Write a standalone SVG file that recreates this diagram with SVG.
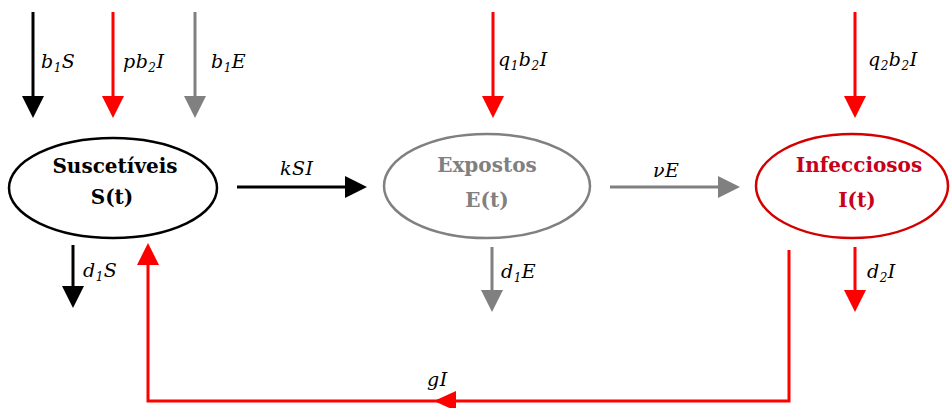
<svg xmlns="http://www.w3.org/2000/svg" width="951" height="408" viewBox="0 0 951 408">
<style>
.lbl{font-family:"DejaVu Serif","Liberation Serif",serif;font-style:italic;font-size:19px;letter-spacing:0.5px}
.sub{font-size:12px}
.ttl{font-family:"DejaVu Serif","Liberation Serif",serif;font-weight:bold;font-size:20px;letter-spacing:0px;text-anchor:middle}
.k{stroke:#000;stroke-width:3;fill:none}
.g{stroke:#808080;stroke-width:3;fill:none}
.r{stroke:#ff0000;stroke-width:3;fill:none}
</style>
<defs>
<marker id="ak" viewBox="0 0 22 22" markerWidth="22" markerHeight="22" refX="12" refY="11" orient="auto" markerUnits="userSpaceOnUse"><path d="M0,0 L22,11 L0,22 z" fill="#000"/></marker>
<marker id="ag" viewBox="0 0 22 22" markerWidth="22" markerHeight="22" refX="12" refY="11" orient="auto" markerUnits="userSpaceOnUse"><path d="M0,0 L22,11 L0,22 z" fill="#808080"/></marker>
<marker id="ar" viewBox="0 0 22 22" markerWidth="22" markerHeight="22" refX="12" refY="11" orient="auto" markerUnits="userSpaceOnUse"><path d="M0,0 L22,11 L0,22 z" fill="#ff0000"/></marker>
</defs>
<rect width="951" height="408" fill="#fff"/>

<g id="S">
<ellipse cx="113" cy="188" rx="104" ry="50" fill="none" stroke="#000" stroke-width="2.5"/>
<text class="ttl" x="115" y="173" fill="#000">Suscetíveis</text>
<text class="ttl" x="112" y="204" fill="#000">S(t)</text>
</g>
<g id="E">
<ellipse cx="487" cy="186" rx="103" ry="52" fill="none" stroke="#808080" stroke-width="2.5"/>
<text class="ttl" x="487" y="172" fill="#808080">Expostos</text>
<text class="ttl" x="487" y="207" fill="#808080">E(t)</text>
</g>
<g id="I">
<ellipse cx="852" cy="186" rx="96" ry="52" fill="none" stroke="#d40000" stroke-width="2.5"/>
<text class="ttl" x="859" y="172" fill="#c8001a">Infecciosos</text>
<text class="ttl" x="857" y="207" fill="#c8001a">I(t)</text>
</g>

<g id="connectors">
<line class="k" x1="33" y1="12" x2="33" y2="108" marker-end="url(#ak)"/>
<line class="r" x1="113" y1="12" x2="113" y2="108" marker-end="url(#ar)"/>
<line class="g" x1="195" y1="12" x2="195" y2="108" marker-end="url(#ag)"/>
<line class="r" x1="493" y1="12" x2="493" y2="108" marker-end="url(#ar)"/>
<line class="r" x1="855" y1="12" x2="855" y2="108" marker-end="url(#ar)"/>
<line class="k" x1="237" y1="187" x2="357" y2="187" marker-end="url(#ak)"/>
<line class="g" x1="610" y1="187" x2="730" y2="187" marker-end="url(#ag)"/>
<line class="k" x1="73" y1="245" x2="73" y2="298" marker-end="url(#ak)"/>
<line class="g" x1="492" y1="247" x2="492" y2="302" marker-end="url(#ag)"/>
<line class="r" x1="855" y1="247" x2="855" y2="302" marker-end="url(#ar)"/>
<polyline class="r" points="789,250 789,401 148,401 148,253" marker-end="url(#ar)"/>
<path d="M434,401 L456,391 L456,411 z" fill="#ff0000"/>
</g>

<g id="labels" fill="#000">
<text class="lbl" x="41" y="68">b<tspan class="sub" dy="4">1</tspan><tspan dy="-4">S</tspan></text>
<text class="lbl" x="123" y="68">pb<tspan class="sub" dy="4">2</tspan><tspan dy="-4">I</tspan></text>
<text class="lbl" x="211" y="68">b<tspan class="sub" dy="4">1</tspan><tspan dy="-4">E</tspan></text>
<text class="lbl" x="498" y="66">q<tspan class="sub" dy="4">1</tspan><tspan dy="-4">b</tspan><tspan class="sub" dy="4">2</tspan><tspan dy="-4">I</tspan></text>
<text class="lbl" x="868" y="66">q<tspan class="sub" dy="4">2</tspan><tspan dy="-4">b</tspan><tspan class="sub" dy="4">2</tspan><tspan dy="-4">I</tspan></text>
<text class="lbl" x="280" y="175">kSI</text>
<text class="lbl" x="653" y="177">νE</text>
<text class="lbl" x="83" y="277">d<tspan class="sub" dy="4">1</tspan><tspan dy="-4">S</tspan></text>
<text class="lbl" x="501" y="278">d<tspan class="sub" dy="4">1</tspan><tspan dy="-4">E</tspan></text>
<text class="lbl" x="867" y="278">d<tspan class="sub" dy="4">2</tspan><tspan dy="-4">I</tspan></text>
<text class="lbl" x="427" y="386">gI</text>
</g>
</svg>
